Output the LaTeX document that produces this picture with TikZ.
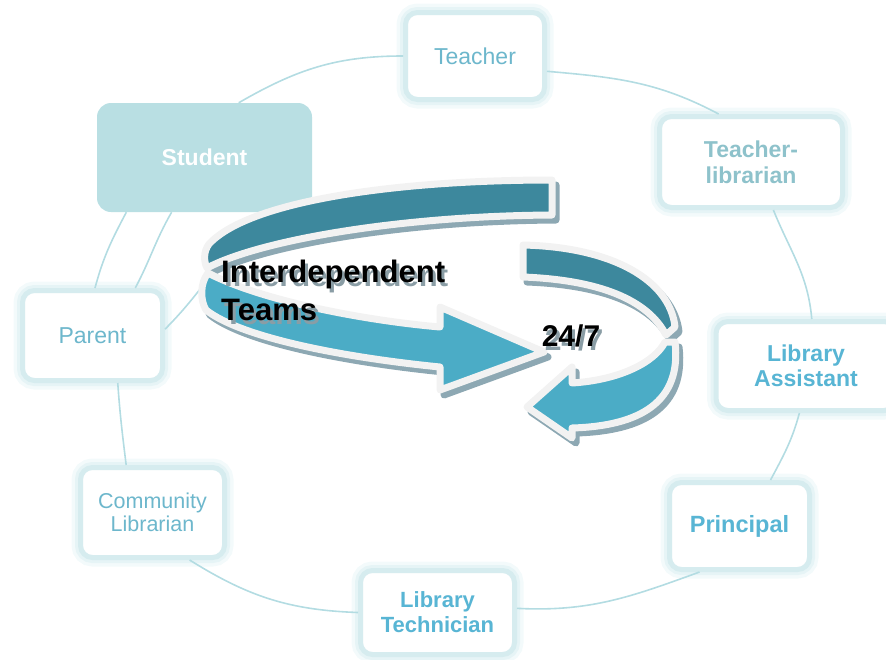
\documentclass[tikz,border=0pt]{standalone}
\usepackage{fontspec}
\setmainfont{Liberation Sans}
\definecolor{boxb}{HTML}{D6ECEF}
\definecolor{glowa}{HTML}{E6F4F6}
\definecolor{glowb}{HTML}{F3FAFB}
\definecolor{linec}{HTML}{B3DCE2}
\definecolor{studfill}{HTML}{B9DFE3}
\definecolor{txtreg}{HTML}{6DB7CC}
\definecolor{txtgray}{HTML}{8EC2CB}
\definecolor{txtbold}{HTML}{58B5D4}
\definecolor{darkband}{HTML}{3D889D}
\definecolor{lightband}{HTML}{4BACC6}
\definecolor{outl}{HTML}{F2F2F2}
\definecolor{shadowc}{HTML}{8DA8B3}
\definecolor{txtshadow}{HTML}{8A9DA5}
\newcommand{\shadowedtext}[1]{\rlap{\hspace{3pt}\raisebox{-4pt}{\textcolor{txtshadow}{#1}}}#1}
\begin{document}
\begin{tikzpicture}[x=1pt,y=-1pt,
  box/.style={rectangle, rounded corners=12pt, fill=white, draw=boxb, line width=5pt,
    preaction={draw=glowb, line width=18pt},
    preaction={draw=glowa, line width=11pt},
    align=center, inner sep=0pt, font=\fontsize{23}{26}\selectfont},
  conn/.style={draw=linec, line width=1.6pt},
  bandshadow/.style={fill=shadowc, draw=shadowc, line width=7pt, line join=round},
  banddark/.style={fill=darkband, draw=outl, line width=7pt, line join=round},
  bandlight/.style={fill=lightband, draw=outl, line width=7pt, line join=round},
  bigtxt/.style={font=\bfseries\fontsize{31}{38}\selectfont, align=left, inner sep=0pt, text=black}
]
\useasboundingbox (0,0) rectangle (886,659);

% nodes
\node[box, minimum width=139pt, minimum height=87pt, text=txtreg] (teacher) at (475,56) {Teacher};
\node[box, minimum width=183pt, minimum height=91pt, text=txtgray, font=\bfseries\fontsize{23}{26}\selectfont] (tlib) at (751,162) {Teacher-\\librarian};
\node[box, minimum width=180pt, minimum height=89pt, text=txtbold, font=\bfseries\fontsize{23}{25}\selectfont] (lassist) at (806,366) {Library\\Assistant};
\node[box, minimum width=140pt, minimum height=87pt, text=txtbold, font=\bfseries\fontsize{23.5}{26}\selectfont] (principal) at (739.5,526) {Principal};
\node[box, minimum width=154pt, minimum height=84pt, text=txtbold, font=\bfseries\fontsize{22}{25}\selectfont] (ltech) at (437.5,612.5) {Library\\Technician};
\node[box, minimum width=144pt, minimum height=90pt, text=txtreg, font=\fontsize{21.5}{23}\selectfont] (comlib) at (152.5,512.5) {Community\\Librarian};
\node[box, minimum width=140pt, minimum height=90pt, text=txtreg] (parent) at (92.5,335.5) {Parent};
\node[rectangle, rounded corners=14pt, fill=studfill, minimum width=215pt, minimum height=109pt,
  text=white, font=\bfseries\fontsize{23}{26}\selectfont, inner sep=0pt] (student) at (204.5,157.5) {Student};

% connectors
\coordinate (hub) at (222,262);
\draw[conn] (teacher.west) to[out=180,in=30] (student.58);
\draw[conn] (teacher.-12) to[out=-5,in=152] (tlib.124);
\draw[conn] (tlib.-65) to[out=-68,in=95] (lassist.83);
\draw[conn] (lassist.-98) to[out=-105,in=62] (principal.56);
\draw[conn] (principal.-131) to[out=-160,in=-3] (ltech.3);
\draw[conn] (ltech.west) to[out=178,in=-32] (comlib.-52);
\draw[conn] (comlib.119) to[out=97,in=-86] (parent.-62);
\draw[conn] (parent.87) to[out=75,in=-118] (student.-145);
\draw[conn] (parent.48) to[out=62,in=-120] (student.-121);
\draw[conn] (parent.5) to[out=45,in=-130] (hub);

% circular arrows
\def\pathA{(552,180) .. controls (400,180) and (250,200) .. (209,244) .. controls (203,252) and (204,262) .. (207,268) .. controls (260,240) and (400,216) .. (552,215) -- cycle}
\def\pathB{(208,273) .. controls (260,300) and (360,320) .. (440,327) -- (440,307) -- (544,352) -- (440,390) -- (440,367) .. controls (340,357) and (240,337) .. (206,310) .. controls (200,300) and (200,283) .. (208,273) -- cycle}
\def\pathC{(523,245) .. controls (612,247) and (670,280) .. (675,327) -- (666,335) .. controls (648,300) and (600,280) .. (523,277) -- cycle}
\def\pathD{(675,342) .. controls (682,402) and (640,426) .. (572,428) -- (572,438) -- (527,407) -- (572,367) -- (572,383) .. controls (620,380) and (655,362) .. (665,342) -- cycle}

\path[bandshadow, shift={(4,5)}] \pathA;
\path[banddark] \pathA;
\path[bandshadow, shift={(4,5)}] \pathB;
\path[bandlight] \pathB;
\path[bandshadow, shift={(4,5)}] \pathC;
\path[banddark] \pathC;
\path[bandshadow, shift={(4,5)}] \pathD;
\path[bandlight] \pathD;

% texts on arrows
\node[bigtxt, anchor=base west] (t1) at (221,282) {\shadowedtext{Interdependent}};
\node[bigtxt, anchor=base west] (t2) at (221,320) {\shadowedtext{Teams}};
\node[bigtxt, anchor=base, font=\bfseries\fontsize{30}{36}\selectfont] (t3) at (571,346) {\shadowedtext{24/7}};
\end{tikzpicture}
\end{document}
